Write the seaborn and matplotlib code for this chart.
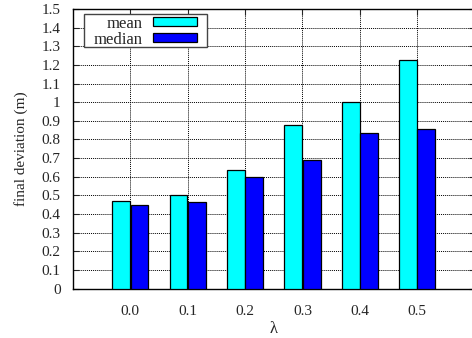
import matplotlib
matplotlib.use("Agg")
import matplotlib.pyplot as plt
import matplotlib.ticker as mticker
from matplotlib.patches import Rectangle
import numpy as np
import pandas as pd
import seaborn as sns

lambdas = ["0.0", "0.1", "0.2", "0.3", "0.4", "0.5"]
mean_dev = [0.47, 0.50, 0.635, 0.875, 1.0, 1.225]
median_dev = [0.45, 0.465, 0.60, 0.69, 0.835, 0.855]

data = pd.DataFrame({
    "lambda": lambdas * 2,
    "value": mean_dev + median_dev,
    "stat": ["mean"] * len(lambdas) + ["median"] * len(lambdas),
})

sns.set_style("ticks")
plt.rcParams["font.family"] = "serif"
plt.rcParams["font.serif"] = ["Liberation Serif", "DejaVu Serif"]

fig = plt.figure(figsize=(4.72, 3.38), dpi=100)
ax = fig.add_axes([0.1547, 0.1464, 0.8506, 0.827])

sns.barplot(
    data=data, x="lambda", y="value", hue="stat",
    palette={"mean": "#00ffff", "median": "#0000ff"}, saturation=1,
    width=0.64, gap=0.03, edgecolor="black", linewidth=0.9,
    ax=ax, zorder=3,
)

ax.set_xlim(-1, 6)
ax.set_ylim(0, 1.5)
ax.yaxis.set_major_locator(mticker.MultipleLocator(0.1))
ax.yaxis.set_major_formatter(mticker.FuncFormatter(lambda v, p: "%g" % round(v, 1)))
ax.grid(True, linestyle=(0, (1, 1)), color="black", linewidth=0.7, zorder=0)
ax.set_axisbelow(True)
for s in ax.spines.values():
    s.set_visible(True)
    s.set_color("black")
    s.set_linewidth(1.0)
ax.tick_params(axis="both", direction="in", length=4, width=0.8,
               labelsize=11, top=True, right=True)
ax.tick_params(axis="x", pad=12)
ax.tick_params(axis="y", pad=9)
ax.set_xlabel("λ", fontsize=12, labelpad=2)
ax.set_ylabel("final deviation (m)", fontsize=11, labelpad=10)

# gnuplot-like key box: wider than tall padding
box = Rectangle((0.0274, 0.865), 0.3063, 0.118, transform=ax.transAxes,
                facecolor="white", edgecolor="#444444", linewidth=1.0, zorder=5)
ax.add_patch(box)
leg = ax.legend(loc="center", bbox_to_anchor=(0.1806, 0.918),
                markerfirst=False, fontsize=12, frameon=False,
                handlelength=2.65, handleheight=0.45, handletextpad=0.6,
                borderpad=0.0, labelspacing=0.0, borderaxespad=0.0)
leg.set_zorder(6)
leg._legend_box.align = "right"
for t in leg.get_texts():
    t.set_ha("right")

fig.savefig("out.png", dpi=100)
